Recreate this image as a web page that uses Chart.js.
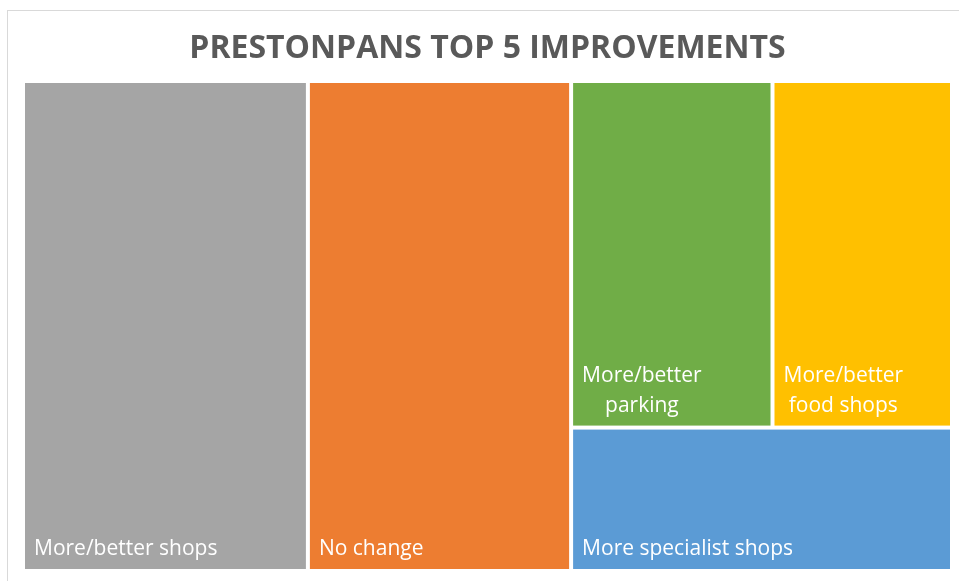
<!DOCTYPE html>
<html>
<head>
<meta charset="utf-8">
<script src="https://cdn.jsdelivr.net/npm/chart.js@4/dist/chart.umd.min.js"></script>
<style>
  body { margin: 0; background: #fff; }
  canvas { display: block; }
</style>
</head>
<body>
<canvas id="chart" width="959" height="581"></canvas>
<script>
// treemap data, biggest first
const categories = [
    "More/better shops",
    "No change",
    "More/better parking",
    "More/better food shops",
    "More specialist shops",
];
const responses = [92, 85, 46, 41, 36];
const cellColors = ["#A5A5A5", "#ED7D31", "#70AD47", "#FFC000", "#5B9BD5"];

// squarified layout in a w x h box, returns rects in the same order as values
const squarify = (values, w, h) => {
    const total = values.reduce((a, b) => a + b, 0);
    let items = values.map((v, i) => ({ i, a: (v * w * h) / total }));
    const rects = [];
    let x = 0, y = 0;

    const worst = (row, side) => {
        const s = row.reduce((a, r) => a + r.a, 0);
        const max = Math.max(...row.map((r) => r.a));
        const min = Math.min(...row.map((r) => r.a));
        return Math.max((side * side * max) / (s * s), (s * s) / (side * side * min));
    };

    while (items.length) {
        const side = Math.min(w, h);
        let row = [items[0]];
        let k = 1;
        while (k < items.length && worst(row.concat(items[k]), side) <= worst(row, side)) {
            row.push(items[k]);
            k++;
        }
        items = items.slice(k);
        const s = row.reduce((a, r) => a + r.a, 0);
        if (w >= h) {
            const colW = s / h;
            let cy = y;
            row.forEach((r) => {
                const ch = r.a / colW;
                rects[r.i] = { x0: x, y0: cy, x1: x + colW, y1: cy + ch };
                cy += ch;
            });
            x += colW;
            w -= colW;
        } else {
            const rowH = s / w;
            let cx = x;
            row.forEach((r) => {
                const cw = r.a / rowH;
                rects[r.i] = { x0: cx, y0: y, x1: cx + cw, y1: y + rowH };
                cx += cw;
            });
            y += rowH;
            h -= rowH;
        }
    }
    return rects;
};

const wrapLabel = (ctx, text, maxWidth) => {
    const words = text.split(" ");
    const lines = [];
    let line = "";
    words.forEach((word) => {
        const test = line ? line + " " + word : word;
        if (line && ctx.measureText(test).width > maxWidth) {
            lines.push(line);
            line = word;
        } else {
            line = test;
        }
    });
    lines.push(line);
    return lines;
};

const treemapPlugin = {
    id: "treemap",
    beforeDraw(chart) {
        const { ctx } = chart;
        ctx.save();
        ctx.strokeStyle = "#D9D9D9";
        ctx.lineWidth = 1;
        ctx.strokeRect(7.5, 10.5, 2000, 2000);
        ctx.restore();
    },
    afterDatasetsDraw(chart) {
        const { ctx, chartArea, scales } = chart;
        const W = chartArea.right - chartArea.left;
        const H = chartArea.bottom - chartArea.top;
        const rects = squarify(responses, W, H);
        const gap = 2;

        ctx.save();
        rects.forEach((r, i) => {
            // layout box -> data units (0..100) -> pixels through the scales
            const left = scales.x.getPixelForValue((r.x0 / W) * 100) + gap;
            const right = scales.x.getPixelForValue((r.x1 / W) * 100) - gap;
            const top = scales.y.getPixelForValue((r.y0 / H) * 100) + gap;
            const bottom = scales.y.getPixelForValue((r.y1 / H) * 100) - gap;

            ctx.fillStyle = cellColors[i];
            ctx.fillRect(left, top, right - left, bottom - top);

            ctx.font = "21px 'Open Sans'";
            ctx.fillStyle = "#FFFFFF";
            ctx.textBaseline = "alphabetic";
            ctx.textAlign = "center";
            const lines = wrapLabel(ctx, categories[i], right - left - 20);
            const blockW = Math.max(...lines.map((l) => ctx.measureText(l).width));
            const cx = left + 9 + blockW / 2;
            const lineH = 30;
            lines.forEach((l, j) => {
                const yy = bottom - 14 - (lines.length - 1 - j) * lineH;
                ctx.fillText(l, cx, yy);
            });
        });
        ctx.restore();
    },
};

new Chart(document.getElementById("chart"), {
    type: "scatter",
    data: { datasets: [{ data: [] }] },
    options: {
        responsive: false,
        animation: false,
        devicePixelRatio: 1,
        layout: {
            padding: { left: 23, right: 7, top: 0, bottom: 10 },
        },
        scales: {
            x: { display: false, min: 0, max: 100 },
            y: { display: false, min: 0, max: 100, reverse: true },
        },
        plugins: {
            legend: { display: false },
            tooltip: { enabled: false },
            title: {
                display: true,
                text: "PRESTONPANS TOP 5 IMPROVEMENTS",
                color: "#595959",
                font: { family: "'Open Sans'", size: 32, weight: "bold" },
                padding: { top: 30, bottom: 12.6 },
            },
        },
    },
    plugins: [treemapPlugin],
});
</script>
</body>
</html>
